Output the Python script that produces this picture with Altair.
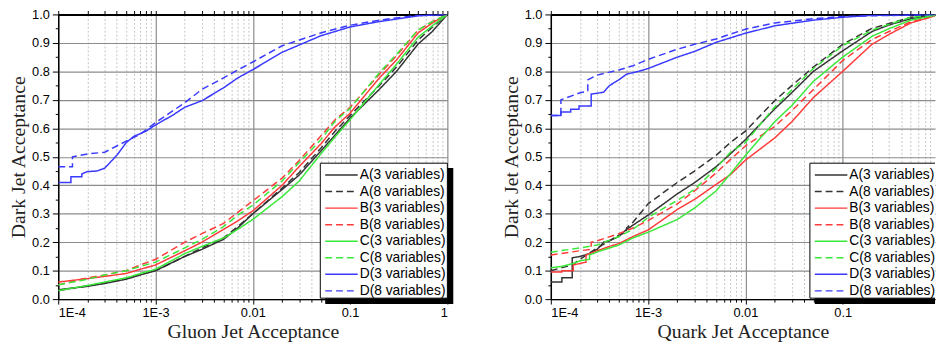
import altair as alt
import pandas as pd

SERIES = ["A(3 variables)", "A(8 variables)", "B(3 variables)", "B(8 variables)",
          "C(3 variables)", "C(8 variables)", "D(3 variables)", "D(8 variables)"]
COLORS = ["#333333", "#333333", "#ff3a3a", "#ff3a3a", "#3ae83a", "#3ae83a", "#3a3aff", "#3a3aff"]
DASHES = [[1, 0], [7, 4]] * 4

# ---------------- Gluon panel ----------------
GX = [1e-4, 2e-4, 3e-4, 5e-4, 7e-4, 1e-3, 2e-3, 3e-3, 5e-3, 7e-3, 1e-2, 2e-2, 3e-2,
      5e-2, 7e-2, 0.1, 0.2, 0.3, 0.5, 0.7, 1.0]
G_A3 = [0.033, 0.045, 0.055, 0.07, 0.085, 0.10, 0.15, 0.175, 0.21, 0.25, 0.30, 0.385, 0.436,
        0.52, 0.576, 0.636, 0.737, 0.80, 0.896, 0.94, 1.0]
G_A8 = [0.03, 0.047, 0.057, 0.072, 0.087, 0.10, 0.15, 0.18, 0.215, 0.255, 0.30, 0.39, 0.445,
        0.53, 0.59, 0.645, 0.75, 0.815, 0.91, 0.955, 1.0]
G_B3 = [0.06, 0.072, 0.08, 0.09, 0.105, 0.12, 0.17, 0.20, 0.245, 0.275, 0.31, 0.40, 0.466,
        0.545, 0.605, 0.653, 0.777, 0.84, 0.935, 0.97, 1.0]
G_B8 = [0.05, 0.075, 0.085, 0.10, 0.12, 0.14, 0.20, 0.23, 0.266, 0.305, 0.345, 0.425, 0.487,
        0.573, 0.63, 0.674, 0.79, 0.855, 0.945, 0.975, 1.0]
G_C3 = [0.03, 0.048, 0.06, 0.075, 0.09, 0.105, 0.16, 0.185, 0.215, 0.245, 0.28, 0.36, 0.415,
        0.51, 0.57, 0.63, 0.755, 0.825, 0.92, 0.96, 1.0]
G_C8 = [0.05, 0.07, 0.085, 0.10, 0.115, 0.13, 0.18, 0.21, 0.255, 0.295, 0.33, 0.415, 0.48,
        0.56, 0.625, 0.67, 0.795, 0.86, 0.945, 0.975, 1.0]
G_D3_X = [1e-4, 1.35e-4, 1.35e-4, 1.75e-4, 1.75e-4, 2e-4, 2.5e-4, 3e-4, 4e-4, 5e-4, 6e-4, 8e-4,
          1e-3, 1.5e-3, 2e-3, 3e-3, 5e-3, 7e-3, 1e-2, 2e-2, 5e-2, 0.1, 0.2, 0.5, 1.0]
G_D3_Y = [0.41, 0.41, 0.43, 0.43, 0.44, 0.448, 0.45, 0.46, 0.505, 0.55, 0.572, 0.59,
          0.612, 0.646, 0.674, 0.697, 0.742, 0.777, 0.806, 0.867, 0.925, 0.956, 0.975, 0.995, 1.0]
G_D8_X = [1e-4, 1.4e-4, 1.4e-4, 2e-4, 3e-4, 4e-4, 5e-4, 7e-4, 1e-3, 2e-3, 3e-3, 5e-3, 7e-3,
          1e-2, 2e-2, 5e-2, 0.1, 0.2, 0.5, 1.0]
G_D8_Y = [0.465, 0.465, 0.50, 0.51, 0.516, 0.538, 0.555, 0.58, 0.62, 0.69, 0.737, 0.777, 0.805,
          0.833, 0.89, 0.935, 0.962, 0.98, 0.997, 1.0]

# ---------------- Quark panel ----------------
Q_A3_X = [1e-4, 1.3e-4, 1.3e-4, 1.66e-4, 1.66e-4, 2e-4, 2.5e-4, 3e-4, 3.5e-4, 4e-4, 5e-4, 6e-4,
          7e-4, 1e-3, 2e-3, 3e-3, 5e-3, 7e-3, 1e-2, 2e-2, 3e-2, 5e-2, 0.1, 0.2, 0.3, 0.5, 1.0]
Q_A3_Y = [0.06, 0.06, 0.075, 0.075, 0.145, 0.15, 0.16, 0.175, 0.20, 0.205, 0.22, 0.245,
          0.26, 0.295, 0.37, 0.409, 0.465, 0.51, 0.56, 0.668, 0.725, 0.80, 0.872, 0.94, 0.963, 0.985, 1.0]
Q_A8_X = [1e-4, 1.66e-4, 2e-4, 3e-4, 4e-4, 5e-4, 6e-4, 6e-4, 7e-4, 1e-3, 2e-3, 3e-3, 5e-3,
          7e-3, 1e-2, 2e-2, 3e-2, 5e-2, 0.1, 0.2, 0.3, 0.5, 1.0]
Q_A8_Y = [0.10, 0.12, 0.14, 0.18, 0.205, 0.225, 0.235, 0.25, 0.27, 0.335, 0.41, 0.45, 0.505,
          0.55, 0.59, 0.697, 0.75, 0.815, 0.895, 0.951, 0.968, 0.99, 1.0]
Q_B3_X = [1e-4, 1.3e-4, 1.3e-4, 1.7e-4, 1.7e-4, 2.3e-4, 2.3e-4, 3e-4, 4e-4, 5e-4, 7e-4, 1e-3,
          2e-3, 3e-3, 5e-3, 7e-3, 1e-2, 2e-2, 3e-2, 5e-2, 0.1, 0.2, 0.3, 0.5, 1.0]
Q_B3_Y = [0.095, 0.095, 0.10, 0.10, 0.12, 0.13, 0.155, 0.17, 0.185, 0.195, 0.22, 0.243,
          0.315, 0.35, 0.403, 0.437, 0.488, 0.566, 0.623, 0.708, 0.80, 0.895, 0.93, 0.97, 1.0]
Q_B8_X = [1e-4, 2e-4, 2.6e-4, 2.6e-4, 3e-4, 5e-4, 7e-4, 1e-3, 2e-3, 3e-3, 5e-3, 7e-3, 1e-2,
          2e-2, 3e-2, 5e-2, 0.1, 0.2, 0.3, 0.5, 1.0]
Q_B8_Y = [0.155, 0.17, 0.175, 0.20, 0.205, 0.23, 0.25, 0.276, 0.335, 0.38, 0.443, 0.49, 0.538,
          0.606, 0.662, 0.736, 0.838, 0.912, 0.94, 0.974, 1.0]
Q_C3_X = [1e-4, 1.3e-4, 1.7e-4, 2e-4, 2.5e-4, 2.5e-4, 3e-4, 5e-4, 7e-4, 1e-3, 2e-3, 3e-3, 5e-3,
          7e-3, 1e-2, 2e-2, 3e-2, 5e-2, 0.1, 0.2, 0.3, 0.5, 1.0]
Q_C3_Y = [0.11, 0.115, 0.125, 0.135, 0.14, 0.155, 0.166, 0.19, 0.215, 0.235, 0.28, 0.32, 0.38,
          0.44, 0.505, 0.623, 0.68, 0.765, 0.85, 0.923, 0.95, 0.98, 1.0]
Q_C8_X = [1e-4, 2e-4, 3e-4, 5e-4, 7e-4, 1e-3, 2e-3, 3e-3, 5e-3, 7e-3, 1e-2, 2e-2, 3e-2, 5e-2,
          0.1, 0.2, 0.3, 0.5, 1.0]
Q_C8_Y = [0.165, 0.18, 0.19, 0.22, 0.245, 0.287, 0.347, 0.385, 0.46, 0.516, 0.55, 0.675, 0.735,
          0.81, 0.89, 0.945, 0.965, 0.99, 1.0]
Q_D3_X = [1e-4, 1.27e-4, 1.27e-4, 1.6e-4, 1.6e-4, 1.95e-4, 1.95e-4, 2.6e-4, 2.6e-4, 3.5e-4, 4e-4,
          5e-4, 6e-4, 8e-4, 1e-3, 2e-3, 3e-3, 5e-3, 1e-2, 2e-2, 5e-2, 0.1, 0.2, 1.0]
Q_D3_Y = [0.645, 0.645, 0.657, 0.657, 0.667, 0.667, 0.678, 0.678, 0.72, 0.727, 0.75,
          0.77, 0.79, 0.80, 0.81, 0.85, 0.87, 0.902, 0.934, 0.96, 0.98, 0.99, 0.997, 1.0]
Q_D8_X = [1e-4, 1.27e-4, 1.27e-4, 2e-4, 2.4e-4, 2.4e-4, 3e-4, 5e-4, 7e-4, 1e-3, 2e-3, 3e-3,
          5e-3, 1e-2, 2e-2, 5e-2, 0.1, 1.0]
Q_D8_Y = [0.645, 0.645, 0.70, 0.725, 0.73, 0.77, 0.787, 0.805, 0.82, 0.842, 0.878, 0.895,
          0.914, 0.948, 0.97, 0.985, 0.993, 1.0]

GLUON = [(GX, G_A3), (GX, G_A8), (GX, G_B3), (GX, G_B8), (GX, G_C3), (GX, G_C8),
         (G_D3_X, G_D3_Y), (G_D8_X, G_D8_Y)]
QUARK = [(Q_A3_X, Q_A3_Y), (Q_A8_X, Q_A8_Y), (Q_B3_X, Q_B3_Y), (Q_B8_X, Q_B8_Y),
         (Q_C3_X, Q_C3_Y), (Q_C8_X, Q_C8_Y), (Q_D3_X, Q_D3_Y), (Q_D8_X, Q_D8_Y)]

X_TICKS = [m * 10.0 ** e for e in range(-4, 0) for m in range(1, 10)] + [1.0]
Y_TICKS = [round(i * 0.05, 2) for i in range(21)]

DECADE = 98.75          # pixels per decade on both panels
H = 289
W_LEFT = 395            # full 1E-4 .. 1 range
W_RIGHT = 390           # right panel runs off the page edge, as in the reference

MAJ_X = "abs(log(datum.value)/LN10 - round(log(datum.value)/LN10)) < 0.001"
MAJ_Y = "abs(datum.value*10 - round(datum.value*10)) < 0.01"
X_LABELS = (f"{MAJ_X} ? (datum.value < 0.0005 ? '1E-4' : datum.value < 0.005 ? '1E-3' : "
            "datum.value < 0.05 ? '0.01' : datum.value < 0.5 ? '0.1' : '1') : ''")

ONE = pd.DataFrame({"k": [0]})
LEG = pd.DataFrame({"series": SERIES, "row": list(range(len(SERIES)))})


def frame(pairs):
    rows = []
    for s, (xs, ys) in zip(SERIES, pairs):
        for i, (x, y) in enumerate(zip(xs, ys)):
            rows.append({"series": s, "x": x, "y": y, "i": i})
    return pd.DataFrame(rows)


def panel(pairs, xtitle, W, cut):
    xmax = 10 ** (W / DECADE - 4)
    ticks = [t for t in X_TICKS if t <= xmax * 1.0001]
    xscale = alt.Scale(type="log", domain=[1e-4, min(1.0, xmax)], nice=False)
    yscale = alt.Scale(domain=[0, 1], nice=False)
    cscale = alt.Scale(domain=SERIES, range=COLORS)
    dscale = alt.Scale(domain=SERIES, range=DASHES)

    lines = alt.Chart(frame(pairs)).mark_line(strokeWidth=1.5, clip=True).encode(
        x=alt.X("x:Q", scale=xscale, title=xtitle, axis=alt.Axis(
            values=ticks, labelExpr=X_LABELS, domainColor="black", domainWidth=1.5,
            tickColor="black",
            tickSize={"condition": {"test": MAJ_X, "value": 5}, "value": 3},
            gridColor={"condition": {"test": MAJ_X, "value": "#8c8c8c"}, "value": "#c4c4c4"},
            gridDash={"condition": {"test": MAJ_X, "value": [1, 0]}, "value": [2, 2]},
            gridWidth={"condition": {"test": MAJ_X, "value": 1.2}, "value": 1},
            labelPadding=3, titlePadding=2)),
        y=alt.Y("y:Q", scale=yscale, title="Dark Jet Acceptance", axis=alt.Axis(
            values=Y_TICKS,
            labelExpr=f"{MAJ_Y} ? format(datum.value, '.1f') : ''",
            domainColor="black", domainWidth=1.5, tickColor="black",
            tickSize={"condition": {"test": MAJ_Y, "value": 6}, "value": 3},
            gridColor="#8c8c8c", gridWidth=1.2,
            gridOpacity={"condition": {"test": MAJ_Y, "value": 1}, "value": 0},
            labelPadding=3, titlePadding=3)),
        color=alt.Color("series:N", scale=cscale, legend=None),
        strokeDash=alt.StrokeDash("series:N", scale=dscale, legend=None),
        order=alt.Order("i:Q"),
    )
    top = alt.Chart(pd.DataFrame({"x": [1e-4]})).mark_point(opacity=0).encode(
        x=alt.X("x:Q", scale=xscale, axis=alt.Axis(
            orient="top", values=ticks, labels=False, grid=False, title=None,
            domainColor="black", domainWidth=2, tickColor="black", tickSize=4)))

    # legend box (drawn as marks so that it can run up to the page edge like the reference)
    BW = 130
    B = H - 1
    T = B - 137
    L = 263 if cut else 266
    R = min(L + BW, W)
    sx2 = min(L + BW + 5, W) if cut else L + BW + 5
    shadow = alt.Chart(ONE).mark_rect(color="black").encode(
        x=alt.value(L + 5), x2=alt.value(sx2), y=alt.value(T + 5), y2=alt.value(B + 6))
    box = alt.Chart(ONE).mark_rect(fill="white").encode(
        x=alt.value(L), x2=alt.value(R), y=alt.value(T), y2=alt.value(B))
    edges = [
        alt.Chart(ONE).mark_rule(color="black", strokeWidth=1).encode(
            x=alt.value(L), x2=alt.value(R), y=alt.value(T)),
        alt.Chart(ONE).mark_rule(color="black", strokeWidth=1).encode(
            x=alt.value(L), x2=alt.value(R), y=alt.value(B)),
        alt.Chart(ONE).mark_rule(color="black", strokeWidth=1).encode(
            x=alt.value(L), y=alt.value(T), y2=alt.value(B)),
    ]
    if not cut:
        edges.append(alt.Chart(ONE).mark_rule(color="black", strokeWidth=1).encode(
            x=alt.value(R), y=alt.value(T), y2=alt.value(B)))
    rscale = alt.Scale(domain=[0, 7], range=[T + 12, T + 12 + 7 * 16.8])
    rules = alt.Chart(LEG).mark_rule(strokeWidth=1.5).encode(
        x=alt.value(L + 5), x2=alt.value(L + 38),
        y=alt.Y("row:Q", scale=rscale, axis=None),
        color=alt.Color("series:N", scale=cscale, legend=None),
        strokeDash=alt.StrokeDash("series:N", scale=dscale, legend=None))
    texts = alt.Chart(LEG).mark_text(align="left", baseline="middle", font="Liberation Sans",
                                     fontSize=14, color="black").encode(
        x=alt.value(L + 40), y=alt.Y("row:Q", scale=rscale, axis=None), text="series:N")

    return alt.layer(lines, top, shadow, box, *edges, rules, texts).resolve_axis(
        x="independent").resolve_scale(y="independent").properties(width=W, height=H)


chart = alt.hconcat(
    panel(GLUON, "Gluon Jet Acceptance", W_LEFT, False),
    panel(QUARK, "Quark Jet Acceptance", W_RIGHT, True),
    spacing=48,
    padding={"left": 0, "top": -2, "right": 0, "bottom": 0},
).configure_view(stroke=None).configure_axis(
    labelFont="Liberation Sans", labelFontSize=13, labelColor="black",
    titleFont="Liberation Serif", titleFontSize=20, titleFontWeight="normal", titleColor="#222222",
)

chart.save("out.html", embed_options={"renderer": "svg", "actions": False})
